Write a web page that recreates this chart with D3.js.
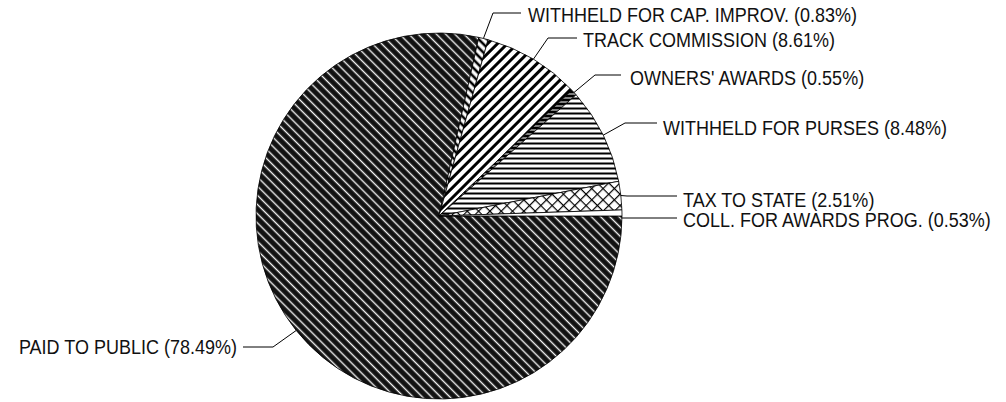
<!DOCTYPE html>
<html>
<head>
<meta charset="utf-8">
<script src="https://cdn.jsdelivr.net/npm/d3@7"></script>
<style>
  html, body { margin: 0; padding: 0; background: #fff; }
  svg { display: block; }
  .lbl { font-family: "Liberation Sans Narrow", "Liberation Sans", "DejaVu Sans Condensed", sans-serif; font-size: 18px; fill: #111; }
</style>
</head>
<body>
<svg id="chart" width="1006" height="402"></svg>
<script>
// ---- data (clockwise from 3 o'clock) ----
const categories = [
  "PAID TO PUBLIC",
  "WITHHELD FOR CAP. IMPROV.",
  "TRACK COMMISSION",
  "OWNERS' AWARDS",
  "WITHHELD FOR PURSES",
  "TAX TO STATE",
  "COLL. FOR AWARDS PROG."
];
const shares = [78.49, 0.83, 8.61, 0.55, 8.48, 2.51, 0.53];
const percentLabels = ["78.49%", "0.83%", "8.61%", "0.55%", "8.48%", "2.51%", "0.53%"];

// ---- layout (label elbows, ends, text anchors) ----
const fills = ["url(#pPaid)", "url(#pCap)", "url(#pTrack)", "url(#pOwners)", "url(#pPurses)", "url(#pTax)", "#fff"];
const labelLayout = [
  { ex: 273, ey: 347, hx: 243, tx: 237, anchor: "end" },
  { ex: 493, ey: 13,  hx: 521, tx: 528, anchor: "start" },
  { ex: 548, ey: 38,  hx: 577, tx: 583, anchor: "start" },
  { ex: 595, ey: 75,  hx: 621, tx: 630, anchor: "start" },
  { ex: 625, ey: 123, hx: 657, tx: 663, anchor: "start" },
  { ex: 627, ey: 196, hx: 677, tx: 683, anchor: "start" },
  { ex: null, ey: 218, hx: 677, tx: 683, anchor: "start" }
];
const textDy = [0, 2, 2, 3, 5, 4, 2];

const cx = 439, cy = 216, R = 183;
const svg = d3.select("#chart");
const defs = svg.append("defs");

function linePattern(id, size, angle, bg, fg, sw) {
  const p = defs.append("pattern").attr("id", id)
    .attr("patternUnits", "userSpaceOnUse")
    .attr("width", size).attr("height", size)
    .attr("patternTransform", `rotate(${angle})`);
  p.append("rect").attr("width", size).attr("height", size).attr("fill", bg);
  p.append("line").attr("x1", size / 2).attr("y1", -1).attr("x2", size / 2).attr("y2", size + 1)
    .attr("stroke", fg).attr("stroke-width", sw);
  return p;
}
linePattern("pPaid", 6.5, -45, "#121212", "#f4f4f4", 1.4);
linePattern("pCap", 6, -45, "#fff", "#000", 2.6);
linePattern("pTrack", 7, 45, "#fff", "#000", 3);
linePattern("pOwners", 4, 90, "#000", "#fff", 1);
linePattern("pPurses", 5, 90, "#fff", "#000", 2);
{
  const s = 8;
  const p = defs.append("pattern").attr("id", "pTax")
    .attr("patternUnits", "userSpaceOnUse")
    .attr("width", s).attr("height", s)
    .attr("patternTransform", "rotate(45)");
  p.append("rect").attr("width", s).attr("height", s).attr("fill", "#fff");
  p.append("line").attr("x1", 0).attr("y1", 0).attr("x2", s).attr("y2", 0).attr("stroke", "#000").attr("stroke-width", 2.4);
  p.append("line").attr("x1", 0).attr("y1", 0).attr("x2", 0).attr("y2", s).attr("stroke", "#000").attr("stroke-width", 2.4);
}

const pie = d3.pie().sort(null).value(d => d)
  .startAngle(Math.PI / 2).endAngle(Math.PI / 2 + 2 * Math.PI);
const arcs = pie(shares);
const arc = d3.arc().innerRadius(0).outerRadius(R);

const g = svg.append("g").attr("transform", `translate(${cx},${cy})`);
g.selectAll("path.slice").data(arcs).join("path")
  .attr("class", "slice")
  .attr("d", arc)
  .attr("fill", (d, i) => fills[i])
  .attr("stroke", "#000")
  .attr("stroke-width", 0.8);

// leader lines
const leaders = svg.append("g");
arcs.forEach((a, i) => {
  const mid = (a.startAngle + a.endAngle) / 2;
  const px = cx + R * Math.sin(mid);
  const py = cy - R * Math.cos(mid);
  const L = labelLayout[i];
  const pts = [[px, py]];
  if (L.ex !== null) pts.push([L.ex, L.ey]);
  else pts[0] = [px, L.ey];
  pts.push([L.hx, L.ey]);
  leaders.append("path")
    .attr("d", d3.line()(pts))
    .attr("fill", "none").attr("stroke", "#000").attr("stroke-width", 1);
});

// labels (slightly tall lettering via vertical scale)
const texts = svg.append("g").selectAll("text").data(categories).join("text")
  .attr("class", "lbl")
  .attr("x", 0)
  .attr("y", 0)
  .attr("dy", "0.36em")
  .attr("text-anchor", (d, i) => labelLayout[i].anchor)
  .text((d, i) => `${d} (${percentLabels[i]})`);

const collW = texts.nodes()[6].getComputedTextLength();
const sx = Math.min(1, 308 / collW);
texts.attr("transform", (d, i) =>
  `translate(${labelLayout[i].tx},${labelLayout[i].ey + textDy[i]}) scale(${sx},1.12)`);
</script>
</body>
</html>
